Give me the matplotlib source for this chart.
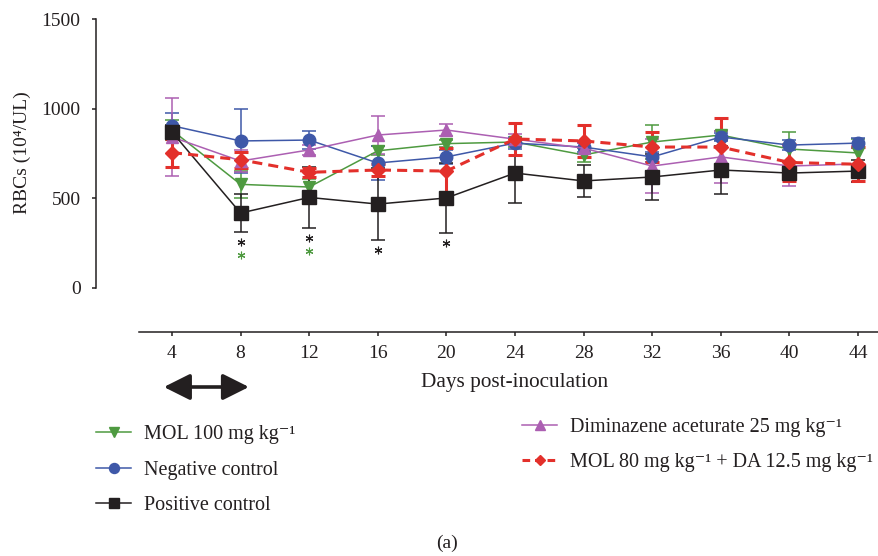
import matplotlib
matplotlib.use('Agg')
import matplotlib.pyplot as plt
import matplotlib.transforms as mtransforms
from matplotlib.lines import Line2D

plt.rcParams['font.family'] = ['Liberation Serif', 'DejaVu Serif']

# RBC counts (10^4/UL) per group, mean and SD
days = [4, 8, 12, 16, 20, 24, 28, 32, 36, 40, 44]

mol100 = [880, 578, 563, 765, 805, 814, 742, 814, 853, 775, 753]
mol100_sd = [55, 75, 45, 25, 20, 25, 40, 95, 25, 95, 80]

neg_ctrl = [905, 820, 825, 697, 731, 808, 786, 731, 842, 797, 808]
neg_ctrl_sd = [70, 178, 48, 95, 40, 35, 25, 30, 20, 30, 30]

dimin25 = [842, 708, 770, 853, 881, 830, 780, 680, 731, 680, 692]
dimin25_sd = [215, 60, 30, 105, 35, 30, 30, 150, 145, 110, 100]

pos_ctrl = [870, 418, 505, 468, 502, 641, 597, 619, 658, 641, 652]
pos_ctrl_sd = [40, 106, 168, 200, 195, 168, 90, 130, 135, 40, 60]

combo = [755, 715, 645, 658, 652, 831, 820, 786, 786, 700, 690]
combo_sd = [78, 45, 25, 35, 128, 88, 88, 85, 160, 105, 95]

# significance marks (days) vs. negative control
star_black_days = [8, 12, 16, 20]
star_green_days = [8, 12]

lab_mol100 = 'MOL 100 mg kg\u207b\u00b9'
lab_neg = 'Negative control'
lab_pos = 'Positive control'
lab_dimin = 'Diminazene aceturate 25 mg kg\u207b\u00b9'
lab_combo = 'MOL 80 mg kg\u207b\u00b9 + DA 12.5 mg kg\u207b\u00b9'

c_green = '#4e9a40'
c_blue = '#3e58a8'
c_pink = '#ac5fb2'
c_black = '#231f20'
c_red = '#e3302b'

W, H = 879, 556
fig = plt.figure(figsize=(W / 100, H / 100), dpi=100)
ax = fig.add_axes([139 / W, 1 - 288 / H, (W - 139) / W, 269 / H])
ax.set_xlim(2.08, 45.22)
ax.set_ylim(0, 1500)

thin = dict(lw=1.1, elinewidth=1.1, capthick=1.1, capsize=4.7)
h_green = ax.errorbar(days, mol100, yerr=mol100_sd, color=c_green, marker='v', ms=9, **thin)
h_blue = ax.errorbar(days, neg_ctrl, yerr=neg_ctrl_sd, color=c_blue, marker='o', ms=9, **thin)
h_pink = ax.errorbar(days, dimin25, yerr=dimin25_sd, color=c_pink, marker='^', ms=9, **thin)
h_black = ax.errorbar(days, pos_ctrl, yerr=pos_ctrl_sd, color=c_black, marker='s', ms=9.5, **thin)
h_red = ax.errorbar(days, combo, yerr=combo_sd, color=c_red, marker='D', ms=7,
                    lw=2.2, elinewidth=2.2, capthick=2.2, capsize=5)
h_red[0].set_dashes((3.3, 2))

# asterisks under the lower error bars of the positive control
low = dict(zip(days, [m - s for m, s in zip(pos_ctrl, pos_ctrl_sd)]))
tr1 = mtransforms.offset_copy(ax.transData, fig=fig, y=-10, units='dots')
tr2 = mtransforms.offset_copy(ax.transData, fig=fig, y=-23, units='dots')
ax.plot(star_black_days, [low[d] for d in star_black_days], ls='none', marker=(6, 2, 0),
        ms=5.5, mew=0.8, color=c_black, transform=tr1, clip_on=False)
ax.plot(star_green_days, [low[d] for d in star_green_days], ls='none', marker=(6, 2, 0),
        ms=5.5, mew=0.8, color=c_green, transform=tr2, clip_on=False)

for s in ['top', 'right']:
    ax.spines[s].set_visible(False)
ax.spines['left'].set_position(('outward', 31))
ax.spines['bottom'].set_position(('outward', 31.7))
for s in ['left', 'bottom']:
    ax.spines[s].set_linewidth(1.1)
    ax.spines[s].set_color(c_black)

ax.set_xticks(days)
ax.set_yticks([0, 500, 1000, 1500])
ax.tick_params(axis='y', length=3, width=1.1, pad=8, labelsize=14, colors=c_black)
ax.tick_params(axis='x', length=3, width=1.1, pad=6, labelsize=14, colors=c_black)

fig.text(22 / W, 1 - 153 / H, 'RBCs (10\u2074/UL)', rotation=90, ha='center', va='center',
         fontsize=14, color=c_black)
fig.text(515 / W, 1 - 383 / H, 'Days post-inoculation', ha='center', va='center',
         fontsize=15.3, color=c_black)
fig.text(447 / W, 1 - 543 / H, '(a)', ha='center', va='center', fontsize=14, color=c_black)

# treatment window
ax.annotate('', xy=(8.49, H - 387), xytext=(3.53, H - 387),
            xycoords=('data', 'figure pixels'), textcoords=('data', 'figure pixels'),
            annotation_clip=False,
            arrowprops=dict(arrowstyle='<|-|>,head_length=16,head_width=8', mutation_scale=1,
                            lw=2.6, color=c_black, shrinkA=0, shrinkB=0))


def key(h):
    ln = h[0]
    return Line2D([], [], color=ln.get_color(), lw=ln.get_linewidth(), ls=ln.get_linestyle(),
                  marker=ln.get_marker(), ms=ln.get_markersize() * 0.8)


k_red = key(h_red)
k_red.set_dashes((2.5, 1.6))

leg_kw = dict(loc='center left', frameon=False, fontsize=14.5, handlelength=1.75,
              handletextpad=0.65, labelspacing=0.8, borderpad=0, borderaxespad=0)
leg1 = fig.legend([key(h_green), key(h_blue), key(h_black)], [lab_mol100, lab_neg, lab_pos],
                  bbox_to_anchor=(96 / W, 1 - 470 / H), **leg_kw)
leg2 = fig.legend([key(h_pink), k_red], [lab_dimin, lab_combo],
                  bbox_to_anchor=(522 / W, 1 - 445 / H), **leg_kw)
for leg in (leg1, leg2):
    for t in leg.get_texts():
        t.set_color(c_black)

fig.savefig('out.png', dpi=100)
